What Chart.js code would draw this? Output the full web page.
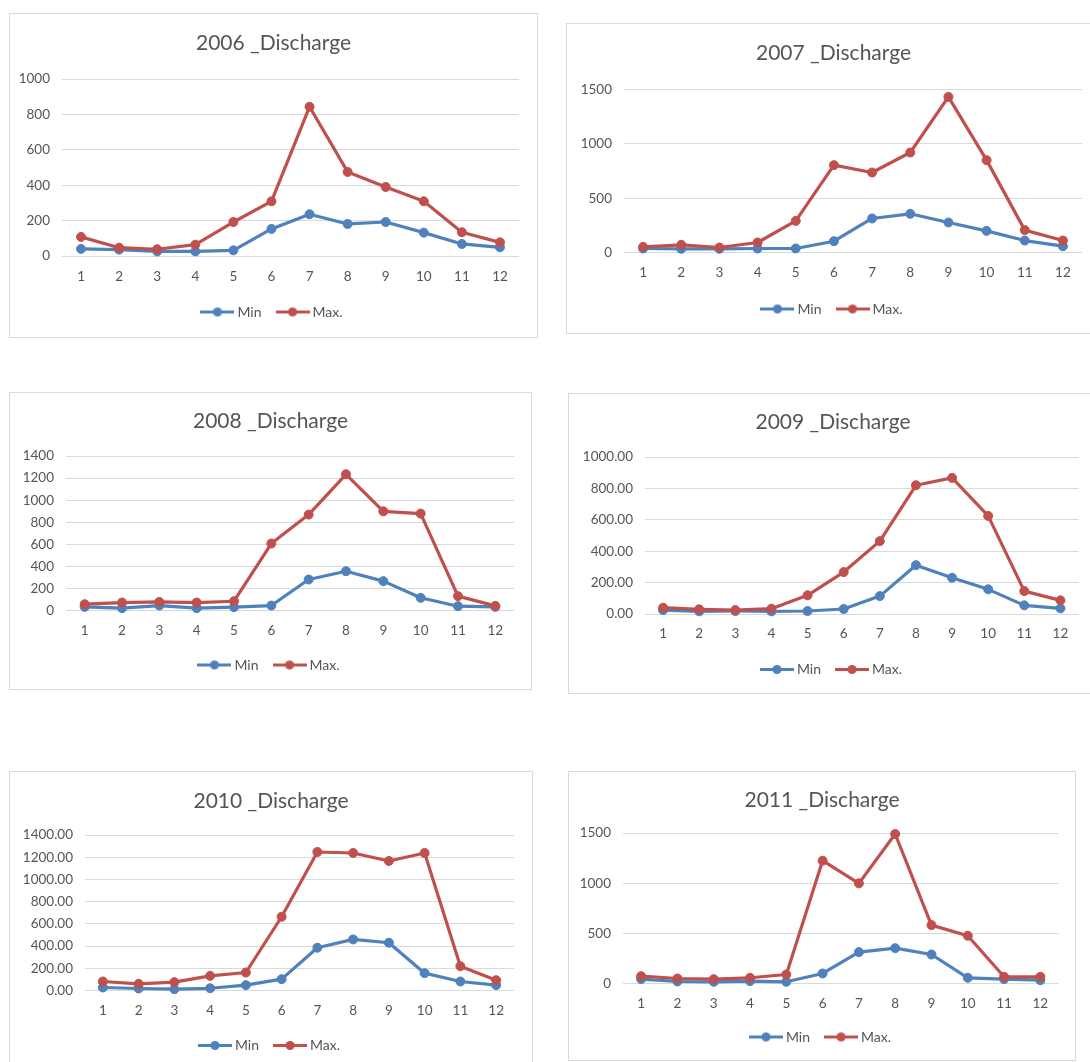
<!DOCTYPE html>
<html>
<head>
<meta charset="utf-8">
<script src="https://cdn.jsdelivr.net/npm/chart.js@4.4.1/dist/chart.umd.min.js"></script>
<style>
  html, body { margin: 0; padding: 0; background: #fff; }
  body { width: 1090px; height: 1062px; overflow: hidden; position: relative; }
  .panel { position: absolute; border: 1px solid #D9D9D9; box-sizing: border-box; background: #fff; }
  .panel canvas { position: absolute; left: 0; top: 0; }
</style>
</head>
<body>
<div class="panel" id="p2006"><canvas id="c2006"></canvas></div>
<div class="panel" id="p2007"><canvas id="c2007"></canvas></div>
<div class="panel" id="p2008"><canvas id="c2008"></canvas></div>
<div class="panel" id="p2009"><canvas id="c2009"></canvas></div>
<div class="panel" id="p2010"><canvas id="c2010"></canvas></div>
<div class="panel" id="p2011"><canvas id="c2011"></canvas></div>
<script>
// Months on the category axis
const months = ['1', '2', '3', '4', '5', '6', '7', '8', '9', '10', '11', '12'];
const seriesNames = ['Min', 'Max.'];

// Monthly discharge, minimum and maximum, per year
const min2006 = [40, 36, 26, 26, 32, 153, 236, 181, 192, 132, 68, 49];
const max2006 = [108, 47, 38, 64, 192, 309, 843, 475, 390, 309, 134, 77];
const min2007 = [37, 34, 34, 37, 37, 104, 313, 356, 276, 199, 110, 58];
const max2007 = [52, 71, 46, 92, 291, 804, 736, 920, 1432, 850, 206, 110];
const min2008 = [33, 21, 45, 21, 30, 45, 281, 356, 266, 115, 39, 33];
const max2008 = [57, 72, 78, 72, 84, 607, 869, 1234, 899, 878, 130, 42];
const min2009 = [25, 17, 19, 17, 19, 32, 114, 311, 231, 157, 55, 36];
const max2009 = [40, 30, 25, 34, 119, 267, 464, 820, 867, 625, 146, 87];
const min2010 = [27, 18, 12, 20, 48, 102, 385, 460, 430, 156, 81, 48];
const max2010 = [81, 60, 75, 132, 162, 664, 1247, 1238, 1166, 1238, 219, 93];
const min2011 = [43, 20, 17, 23, 17, 100, 313, 352, 289, 57, 43, 33];
const max2011 = [73, 50, 43, 57, 90, 1224, 998, 1490, 582, 476, 67, 67];

// Value-axis ticks per year: [max, step, decimals]
const yAxis2006 = [1000, 200, 0];
const yAxis2007 = [1500, 500, 0];
const yAxis2008 = [1400, 200, 0];
const yAxis2009 = [1000, 200, 2];
const yAxis2010 = [1400, 200, 2];
const yAxis2011 = [1500, 500, 0];

// Panel geometry on the page (px): frame box [left, top, width, height],
// plot area [left, top, right, bottom], and text centre lines
const panels = [
  { year: '2006', min: min2006, max: max2006, axis: yAxis2006,
    box: [9, 13, 529, 325], plot: [62, 79, 519, 256], titleY: 43.5, legendY: 312, tickY: 277 },
  { year: '2007', min: min2007, max: max2007, axis: yAxis2007,
    box: [566, 23, 535, 311], plot: [624, 89.5, 1082, 252.5], titleY: 53, legendY: 309, tickY: 273 },
  { year: '2008', min: min2008, max: max2008, axis: yAxis2008,
    box: [9, 392, 523, 298], plot: [66, 456, 514, 610.5], titleY: 421, legendY: 665, tickY: 631 },
  { year: '2009', min: min2009, max: max2009, axis: yAxis2009,
    box: [568, 393, 530, 301], plot: [645, 457, 1078.5, 614], titleY: 422, legendY: 669.5, tickY: 634 },
  { year: '2010', min: min2010, max: max2010, axis: yAxis2010,
    box: [9, 771, 524, 299], plot: [85, 835, 514, 990.5], titleY: 801, legendY: 1045.5, tickY: 1011 },
  { year: '2011', min: min2011, max: max2011, axis: yAxis2011,
    box: [568, 771, 508, 290], plot: [623, 833, 1058.5, 983.5], titleY: 800, legendY: 1037, tickY: 1003.5 }
];

const BLUE = '#4F81BD';
const RED = '#C0504D';
const TEXT = '#555555';
const GRID = '#D9D9D9';
const FONT = 'Lato, "Open Sans", "Liberation Sans", sans-serif';

Chart.defaults.font.family = FONT;
Chart.defaults.color = TEXT;

// Legend swatch: a short line with a round marker in its middle
function lineMarker(color) {
  const c = document.createElement('canvas');
  c.width = 34; c.height = 11;
  const g = c.getContext('2d');
  g.strokeStyle = color; g.lineWidth = 3;
  g.beginPath(); g.moveTo(0, 5.5); g.lineTo(34, 5.5); g.stroke();
  g.fillStyle = color;
  g.beginPath(); g.arc(17, 5.5, 4.6, 0, Math.PI * 2); g.fill();
  return c;
}
const swatches = [lineMarker(BLUE), lineMarker(RED)];

function buildPanel(p) {
  const frame = document.getElementById('p' + p.year);
  const canvas = document.getElementById('c' + p.year);
  frame.style.left = p.box[0] + 'px';
  frame.style.top = p.box[1] + 'px';
  frame.style.width = p.box[2] + 'px';
  frame.style.height = p.box[3] + 'px';

  const ox = p.box[0] + 1, oy = p.box[1] + 1;
  const cw = p.box[2] - 2, ch = p.box[3] - 2;
  canvas.width = cw; canvas.height = ch;
  canvas.style.width = cw + 'px'; canvas.style.height = ch + 'px';

  const plotL = p.plot[0] - ox, plotT = p.plot[1] - oy;
  const plotR = p.plot[2] - ox, plotB = p.plot[3] - oy;

  const titleSize = 21, titleH = titleSize * 1.2;
  const titlePadTop = (p.titleY - oy) - titleH / 2;
  const titlePadBottom = plotT - titlePadTop - titleH;

  const legSize = 14, legPad = 18, itemH = legSize;
  const legH = itemH + legPad + 10;
  const padBottom = ch - (p.legendY - oy) - itemH / 2 - 10;

  const tickSize = 13.5;
  const xAxisH = ch - padBottom - legH - plotB;
  const xTickPad = (p.tickY - oy) - plotB - tickSize * 1.2 / 2;

  const [yMax, yStep, yDec] = p.axis;

  return new Chart(canvas, {
    type: 'line',
    data: {
      labels: months,
      datasets: [
        { label: seriesNames[0], data: p.min, order: 1, clip: 10,
          borderColor: BLUE, backgroundColor: BLUE, pointBackgroundColor: BLUE, pointBorderColor: BLUE },
        { label: seriesNames[1], data: p.max, order: 0, clip: 10,
          borderColor: RED, backgroundColor: RED, pointBackgroundColor: RED, pointBorderColor: RED }
      ]
    },
    options: {
      responsive: false,
      devicePixelRatio: 1,
      animation: false,
      events: [],
      layout: { padding: { left: 0, right: 0, top: 0, bottom: padBottom } },
      elements: {
        line: { borderWidth: 3.2, tension: 0, borderJoinStyle: 'round', borderCapStyle: 'round' },
        point: { radius: 4.5, borderWidth: 1, hoverRadius: 4.5 }
      },
      scales: {
        x: {
          type: 'category',
          offset: true,
          grid: { display: false, drawTicks: false },
          border: { display: false },
          ticks: { color: TEXT, font: { size: tickSize }, padding: xTickPad, maxRotation: 0, autoSkip: false },
          afterFit(s) { s.height = xAxisH; }
        },
        y: {
          type: 'linear',
          position: 'left',
          min: 0, max: yMax,
          grid: { color: GRID, lineWidth: 1, drawTicks: false },
          border: { display: false },
          ticks: {
            stepSize: yStep, color: TEXT, font: { size: tickSize }, padding: 12,
            callback: v => Number(v).toFixed(yDec)
          },
          afterFit(s) { s.width = plotL; }
        },
        yRight: {
          type: 'linear',
          position: 'right',
          grid: { display: false, drawTicks: false },
          border: { display: false },
          ticks: { display: false },
          afterFit(s) { s.width = cw - plotR; }
        }
      },
      plugins: {
        tooltip: { enabled: false },
        title: {
          display: true,
          text: p.year + ' _Discharge',
          color: TEXT,
          font: { size: titleSize, weight: 'normal', lineHeight: 1.2 },
          padding: { top: titlePadTop, bottom: titlePadBottom }
        },
        legend: {
          display: true,
          position: 'bottom',
          labels: {
            usePointStyle: true,
            pointStyleWidth: 26,
            boxHeight: legSize,
            color: TEXT,
            font: { size: legSize },
            padding: legPad,
            sort: (a, b) => a.datasetIndex - b.datasetIndex,
            generateLabels(chart) {
              const items = Chart.defaults.plugins.legend.labels.generateLabels(chart);
              items.forEach(it => { it.pointStyle = swatches[it.datasetIndex]; });
              return items;
            }
          }
        }
      }
    }
  });
}

panels.forEach(buildPanel);
</script>
</body>
</html>
